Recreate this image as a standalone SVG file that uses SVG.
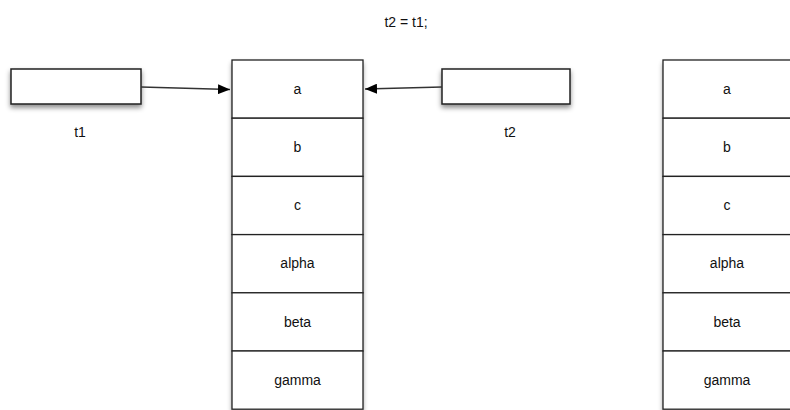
<svg xmlns="http://www.w3.org/2000/svg" width="790" height="410" viewBox="0 0 790 410">
<style>
.box{fill:#fff;stroke:#222;stroke-width:1.5}
.cell{fill:#fff;stroke:#222;stroke-width:1.3}
text{font-family:"Liberation Sans",Arial,sans-serif;font-size:14px;fill:#111;text-anchor:middle}
.conn{stroke:#333;stroke-width:1.5;fill:none}
</style>
<defs>
<filter id="sh" x="-20%" y="-20%" width="140%" height="160%">
<feDropShadow dx="0" dy="3" stdDeviation="2.5" flood-color="#000" flood-opacity="0.45"/>
</filter>
<marker id="ah" markerWidth="12" markerHeight="10" refX="12" refY="5" orient="auto" markerUnits="userSpaceOnUse">
<path d="M0,0 L12,5 L0,10 Z" fill="#000"/>
</marker>
</defs>
<text x="406" y="27">t2 = t1;</text>
<g id="t1">
<rect class="box" x="11" y="69" width="130" height="35" filter="url(#sh)"/>
<text x="80" y="137">t1</text>
</g>
<g id="t2">
<rect class="box" x="442" y="69" width="128" height="35" filter="url(#sh)"/>
<text x="510" y="137">t2</text>
</g>
<g id="obj1">
<rect x="232" y="60" width="131" height="350" fill="#fff" filter="url(#sh)"/>
<rect class="cell" x="232" y="60" width="131" height="58.2"/>
<rect class="cell" x="232" y="118.2" width="131" height="58.2"/>
<rect class="cell" x="232" y="176.4" width="131" height="58.2"/>
<rect class="cell" x="232" y="234.6" width="131" height="58.2"/>
<rect class="cell" x="232" y="292.8" width="131" height="58.2"/>
<rect class="cell" x="232" y="351" width="131" height="58.2"/>
<text x="297.5" y="94">a</text>
<text x="297.5" y="152">b</text>
<text x="297.5" y="210">c</text>
<text x="297.5" y="268">alpha</text>
<text x="297.5" y="327">beta</text>
<text x="297.5" y="385">gamma</text>
</g>
<g id="obj2">
<rect x="663" y="60" width="131" height="350" fill="#fff" filter="url(#sh)"/>
<rect class="cell" x="663" y="60" width="131" height="58.2"/>
<rect class="cell" x="663" y="118.2" width="131" height="58.2"/>
<rect class="cell" x="663" y="176.4" width="131" height="58.2"/>
<rect class="cell" x="663" y="234.6" width="131" height="58.2"/>
<rect class="cell" x="663" y="292.8" width="131" height="58.2"/>
<rect class="cell" x="663" y="351" width="131" height="58.2"/>
<text x="727" y="94">a</text>
<text x="727" y="152">b</text>
<text x="727" y="210">c</text>
<text x="727" y="268">alpha</text>
<text x="727" y="327">beta</text>
<text x="727" y="385">gamma</text>
</g>
<g id="connectors">
<path class="conn" d="M141,87 L230,89.5" marker-end="url(#ah)"/>
<path class="conn" d="M442,87 L365,89" marker-end="url(#ah)"/>
</g>
</svg>
